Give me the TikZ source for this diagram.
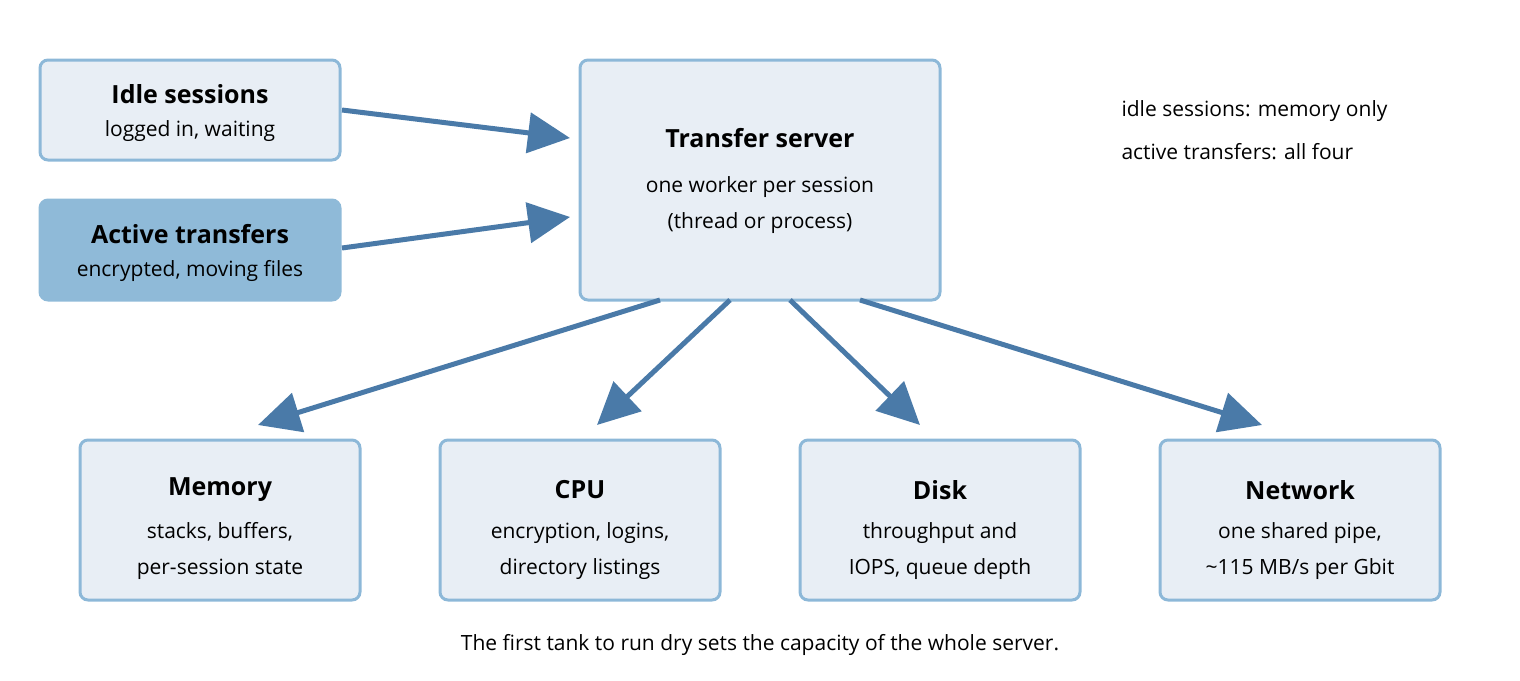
\documentclass[tikz,border=0pt]{standalone}
\usepackage{fontspec}
\setmainfont{Open Sans}
\usetikzlibrary{arrows.meta}
\definecolor{boxfill}{HTML}{E8EEF5}
\definecolor{boxline}{HTML}{8DB8D8}
\definecolor{darkfill}{HTML}{8FBAD8}
\definecolor{arr}{HTML}{4A7AA8}
\begin{document}
\begin{tikzpicture}[x=1pt,y=-1pt,
  box/.style={draw=boxline,fill=boxfill,line width=3pt,rounded corners=8pt},
  dbox/.style={draw=darkfill,fill=darkfill,line width=3pt,rounded corners=8pt},
  ttl/.style={font=\fontsize{25}{30}\selectfont\bfseries},
  sub/.style={font=\fontsize{21}{36}\selectfont,align=center},
  con/.style={draw=arr,line width=5pt,-{Triangle[length=42pt,width=40pt]}}]
\useasboundingbox (0,0) rectangle (1520,680);
\path[box] (40,60) rectangle (340,160);
\path[dbox] (40,200) rectangle (340,300);
\path[box] (580,60) rectangle (940,300);
\foreach \x in {80,440,800,1160} \path[box] (\x,440) rectangle (\x+280,600);
\node[ttl] (it) at (190,94) {Idle sessions};
\node[sub] (is) at (190,131) {logged in, waiting};
\node[ttl] (at) at (190,234) {Active transfers};
\node[sub] (as) at (190,271) {encrypted, moving files};
\node[ttl] (tt) at (760,138) {Transfer server};
\node[sub] (ts) at (760,205) {one worker per session\\(thread or process)};
\node[ttl] (mt) at (220,490) {Memory};
\node[sub] (ms) at (220,551) {stacks, buffers,\\per-session state};
\node[ttl] (ct) at (580,490) {CPU};
\node[sub] (cs) at (580,551) {encryption, logins,\\directory listings};
\node[ttl] (dt) at (940,490) {Disk};
\node[sub] (ds) at (940,551) {throughput and\\IOPS, queue depth};
\node[ttl] (nt) at (1300,490) {Network};
\node[sub] (ns) at (1300,551) {one shared pipe,\\\textasciitilde115 MB/s per Gbit};
\node[sub,anchor=west] (n1) at (1118,111) {idle sessions: memory only};
\node[sub,anchor=west] (n2) at (1118,152) {active transfers: all four};
\node[sub] (cap) at (760,645) {The first tank to run dry sets the capacity of the whole server.};
\coordinate (i1) at (342,110); \coordinate (i2) at (570,138);
\coordinate (a1) at (342,248); \coordinate (a2) at (570,217);
\draw[con] (i1) -- (i2);
\draw[con] (a1) -- (a2);
\coordinate (s1) at (660,300); \coordinate (e1) at (258,425);
\coordinate (s2) at (730,300); \coordinate (e2) at (597,425);
\coordinate (s3) at (790,300); \coordinate (e3) at (920,425);
\coordinate (s4) at (860,300); \coordinate (e4) at (1262,425);
\draw[con] (s1) -- (e1);
\draw[con] (s2) -- (e2);
\draw[con] (s3) -- (e3);
\draw[con] (s4) -- (e4);
\end{tikzpicture}
\end{document}
